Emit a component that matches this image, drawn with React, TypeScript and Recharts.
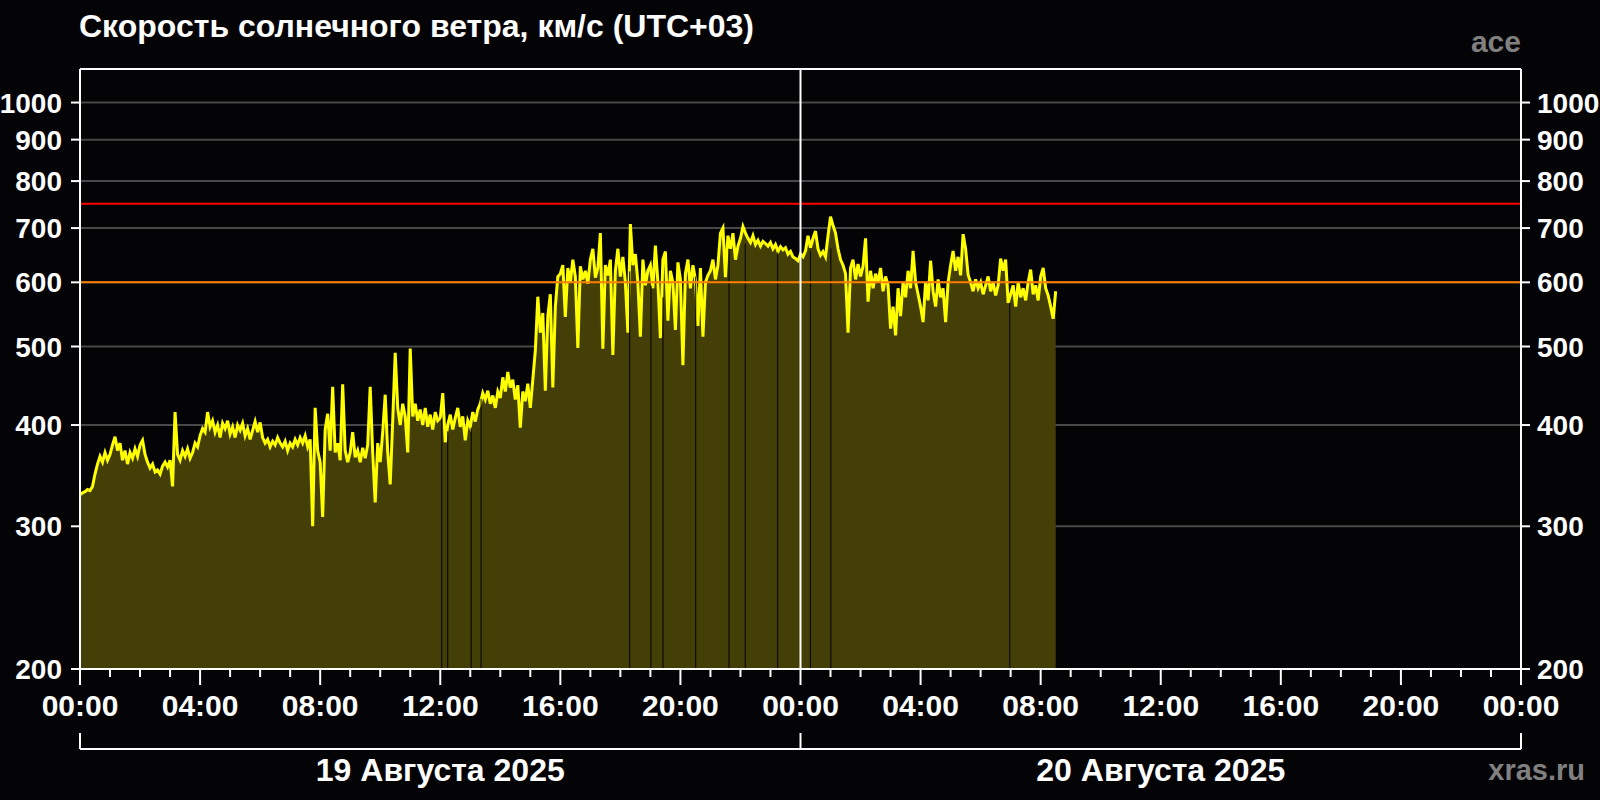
import { ComposedChart, Area, XAxis, YAxis, CartesianGrid, ReferenceLine } from "recharts"

// solar wind speed, km/s, 5-minute steps starting 19 Aug 00:00 (UTC+03)
const s19_00 = [328, 330, 331, 333, 332, 336, 348, 358, 366, 360, 370, 362, 368, 378, 387, 372, 380, 362, 372, 358, 370, 364, 374, 366, 378, 383, 368, 360, 354, 358, 350, 352, 348, 356, 360, 355, 362, 336, 415, 368, 362, 372, 366, 374, 364, 370, 380, 376]
const s19_04 = [388, 396, 392, 415, 398, 405, 392, 400, 386, 402, 396, 405, 390, 398, 386, 400, 394, 402, 388, 396, 384, 394, 404, 392, 403, 386, 380, 384, 376, 382, 378, 386, 380, 376, 382, 372, 380, 376, 384, 378, 386, 380, 388, 376, 384, 300, 420, 372]
const s19_08 = [360, 308, 395, 413, 372, 446, 370, 380, 362, 449, 372, 360, 370, 392, 365, 372, 360, 375, 364, 378, 446, 370, 321, 380, 360, 392, 436, 370, 338, 405, 491, 420, 400, 425, 410, 370, 497, 410, 425, 405, 418, 400, 420, 398, 412, 395, 415, 405]
const s19_12 = [408, 438, 381, 400, 412, 395, 408, 420, 398, 410, 383, 405, 398, 415, 404, 418, 425, 438, 430, 441, 425, 435, 420, 440, 432, 458, 440, 465, 445, 455, 430, 448, 397, 440, 428, 450, 420, 455, 494, 576, 520, 550, 441, 545, 580, 445, 560, 610]
const s19_16 = [615, 630, 544, 625, 600, 640, 610, 498, 628, 605, 620, 598, 640, 660, 608, 625, 690, 497, 630, 612, 640, 488, 620, 660, 610, 645, 600, 520, 708, 630, 650, 600, 514, 640, 595, 620, 630, 590, 666, 600, 512, 640, 655, 538, 620, 600, 524, 635]
const s19_20 = [605, 474, 615, 640, 590, 630, 605, 530, 625, 514, 600, 612, 620, 640, 605, 630, 690, 700, 609, 685, 660, 690, 640, 665, 680, 703, 690, 680, 672, 685, 668, 676, 665, 674, 670, 665, 672, 660, 668, 655, 664, 658, 662, 650, 655, 645, 642, 638]
const s20_00 = [650, 645, 656, 685, 662, 680, 694, 660, 648, 655, 645, 685, 723, 705, 690, 660, 640, 630, 615, 520, 625, 640, 605, 632, 610, 628, 680, 568, 620, 590, 615, 600, 625, 585, 610, 595, 526, 560, 516, 590, 545, 600, 575, 620, 590, 656, 600, 580]
const s20_04 = [560, 536, 600, 570, 638, 585, 560, 605, 575, 590, 536, 600, 630, 656, 620, 645, 612, 688, 660, 613, 600, 585, 605, 590, 600, 580, 595, 610, 585, 600, 578, 595, 642, 620, 640, 566, 580, 595, 560, 600, 575, 590, 570, 600, 622, 580, 595, 570, 610, 625, 590, 578, 560, 541, 585]

// data gaps (hours from 19 Aug 00:00) and the speed reached next to them
const gapHours = [12.05, 12.25, 13.03, 13.36, 18.31, 19.02, 19.42, 20.51, 21.62, 22.16, 23.24, 24.33, 25.01, 30.97]
const gapTops = [408, 393, 397, 431, 619, 594, 575, 610, 660, 670, 653, 656, 661, 566]

const hourTicks = Array.from({ length: 49 }, (_, i) => i)
const speedTicks = [200, 300, 400, 500, 600, 700, 800, 900, 1000]
const dayTicks = [0, 12, 24, 36, 48]
const dayLabels: Record<number, string> = { 12: "19 Августа 2025", 36: "20 Августа 2025" }

const FONT = '"Liberation Sans", Arial, sans-serif'
const BG = "#040305"

const speeds = [...s19_00, ...s19_04, ...s19_08, ...s19_12, ...s19_16, ...s19_20, ...s20_00, ...s20_04]
const data = speeds.map((v, i) => ({ t: (i * 5) / 60, v }))

function HourTick({ x, y, payload }: any) {
  const h = payload.value as number
  const major = h % 4 === 0
  const label = String(h % 24).padStart(2, "0") + ":00"
  return (
    <g>
      <line x1={x} x2={x} y1={y} y2={y + (major ? 16 : 8)} stroke="#fff" strokeWidth={2} />
      {major && (
        <text x={x} y={y + 47} textAnchor="middle" fill="#fff" fontSize={30} fontWeight="bold" fontFamily={FONT}>
          {label}
        </text>
      )}
    </g>
  )
}

function DayTick({ x, y, payload }: any) {
  const v = payload.value as number
  if (dayLabels[v]) {
    return (
      <text x={x} y={y + 32} textAnchor="middle" fill="#fff" fontSize={32} fontWeight="bold" fontFamily={FONT}>
        {dayLabels[v]}
      </text>
    )
  }
  return <line x1={x} x2={x} y1={y - 16} y2={y} stroke="#fff" strokeWidth={2} />
}

function LeftTick({ x, y, payload }: any) {
  return (
    <g>
      <line x1={x - 9} x2={x} y1={y} y2={y} stroke="#fff" strokeWidth={2} />
      <text x={x - 18} y={y} dy="0.36em" textAnchor="end" fill="#fff" fontSize={28} fontWeight="bold" fontFamily={FONT}>
        {payload.value}
      </text>
    </g>
  )
}

function RightTick({ x, y, payload }: any) {
  return (
    <g>
      <line x1={x} x2={x + 9} y1={y} y2={y} stroke="#fff" strokeWidth={2} />
      <text x={x + 16} y={y} dy="0.36em" textAnchor="start" fill="#fff" fontSize={28} fontWeight="bold" fontFamily={FONT}>
        {payload.value}
      </text>
    </g>
  )
}

export default function App() {
  return (
    <div style={{ position: "absolute", left: 0, top: 0, width: 1600, height: 800, background: BG, overflow: "hidden" }}>
      <div style={{ position: "absolute", left: 79, top: 10, color: "#fff", fontFamily: FONT, fontWeight: "bold", fontSize: 32, lineHeight: 1, whiteSpace: "nowrap" }}>
        Скорость солнечного ветра, км/с (UTC+03)
      </div>
      <div style={{ position: "absolute", right: 79, top: 27, color: "#808080", fontFamily: FONT, fontWeight: "bold", fontSize: 30, lineHeight: 1 }}>
        ace
      </div>
      <div style={{ position: "absolute", right: 15, top: 756, color: "#808080", fontFamily: FONT, fontWeight: "bold", fontSize: 29, lineHeight: 1 }}>
        xras.ru
      </div>
      <ComposedChart width={1600} height={800} data={data} margin={{ top: 69, right: 0, bottom: 0, left: 0 }}>
        <CartesianGrid yAxisId="left" vertical={false} stroke="#484848" strokeWidth={2} />
        <XAxis
          dataKey="t"
          type="number"
          domain={[0, 48]}
          ticks={hourTicks}
          interval={0}
          height={80}
          tickSize={0}
          tickMargin={0}
          tickLine={false}
          axisLine={{ stroke: "#fff", strokeWidth: 2 }}
          tick={<HourTick />}
        />
        <XAxis
          xAxisId="day"
          dataKey="t"
          type="number"
          domain={[0, 48]}
          ticks={dayTicks}
          interval={0}
          height={51}
          tickSize={0}
          tickMargin={0}
          tickLine={false}
          axisLine={{ stroke: "#fff", strokeWidth: 2 }}
          tick={<DayTick />}
        />
        <YAxis
          yAxisId="left"
          scale="log"
          domain={[200, 1100]}
          allowDataOverflow
          ticks={speedTicks}
          interval={0}
          width={80}
          tickSize={0}
          tickMargin={0}
          tickLine={false}
          axisLine={{ stroke: "#fff", strokeWidth: 2 }}
          tick={<LeftTick />}
        />
        <YAxis
          yAxisId="right"
          orientation="right"
          scale="log"
          domain={[200, 1100]}
          allowDataOverflow
          ticks={speedTicks}
          interval={0}
          width={79}
          tickSize={0}
          tickMargin={0}
          tickLine={false}
          axisLine={{ stroke: "#fff", strokeWidth: 2 }}
          tick={<RightTick />}
        />
        <Area
          yAxisId="left"
          dataKey="v"
          type="linear"
          baseValue={200}
          stroke="#ffff00"
          strokeWidth={3}
          strokeLinejoin="miter"
          fill="#443f06"
          fillOpacity={1}
          dot={false}
          activeDot={false}
          isAnimationActive={false}
        />
        {gapHours.map((h, i) => (
          <ReferenceLine
            key={h}
            yAxisId="left"
            segment={[{ x: h, y: 200 }, { x: h, y: gapTops[i] }]}
            stroke="#000"
            strokeWidth={1}
          />
        ))}
        <ReferenceLine yAxisId="left" y={600} stroke="#ff8000" strokeWidth={2} />
        <ReferenceLine yAxisId="left" y={750} stroke="#ff0000" strokeWidth={2} />
        <ReferenceLine yAxisId="left" x={24} stroke="#fff" strokeWidth={2} />
        <ReferenceLine yAxisId="left" y={1100} stroke="#fff" strokeWidth={2} />
      </ComposedChart>
    </div>
  )
}
